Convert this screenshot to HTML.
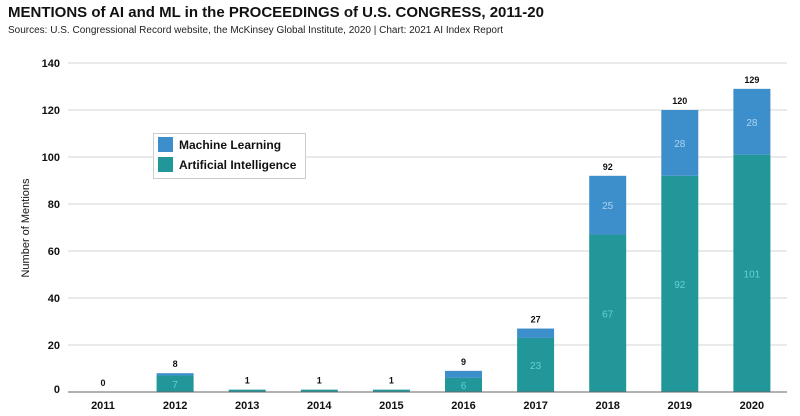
<!DOCTYPE html>
<html><head><meta charset="utf-8"><style>
body{margin:0;background:#fff;font-family:"Liberation Sans",sans-serif}
#wrap{position:relative;width:800px;height:416px;overflow:hidden}
.t{position:absolute;left:8px;top:4px;font-size:15px;font-weight:bold;color:#111}
.s{position:absolute;left:8px;top:25px;font-size:10px;color:#222}
</style></head><body>
<div id="wrap">
<div class="t">MENTIONS of AI and ML in the PROCEEDINGS of U.S. CONGRESS, 2011-20</div>
<div class="s">Sources: U.S. Congressional Record website, the McKinsey Global Institute, 2020 | Chart: 2021 AI Index Report</div>
<svg id="c" width="800" height="416" style="position:absolute;left:0;top:0"></svg>
</div>
<script>
const years=["2011","2012","2013","2014","2015","2016","2017","2018","2019","2020"];
const ai=[0,7,1,1,1,6,23,67,92,101];
const ml=[0,1,0,0,0,3,4,25,28,28];
const totals=[0,8,1,1,1,9,27,92,120,129];
const yTicks=[0,20,40,60,80,100,120,140];
const NS="http://www.w3.org/2000/svg",svg=document.getElementById('c');
const y=v=>392-v*2.35, x=i=>103+i*72.1, bw=37;
function el(t,a,txt){const e=document.createElementNS(NS,t);for(const k in a)e.setAttribute(k,a[k]);if(txt!==undefined)e.textContent=txt;svg.appendChild(e);return e;}
yTicks.forEach(v=>{
 if(v>0){const g=el('line',{x1:68,x2:787,y1:y(v),y2:y(v),stroke:'#d4d4d4','stroke-width':1});
 
 }
 const t=el('text',{x:60,y:(v===0?y(v)-3:y(v))+4,'text-anchor':'end','font-size':11,'font-weight':'bold',fill:'#111'},v);
 
 
});
const yt=el('text',{x:0,y:0,transform:'translate(29,228) rotate(-90)','text-anchor':'middle','font-size':11,fill:'#111'},'Number of Mentions');


years.forEach((yr,i)=>{
 const cx=x(i);
 const a=el('rect',{x:cx-bw/2,y:y(ai[i]),width:bw,height:ai[i]*2.35,fill:'#21979a'});
 
 
 const m=el('rect',{x:cx-bw/2,y:y(ai[i]+ml[i]),width:bw,height:ml[i]*2.35,fill:'#3d8fcb'});
 
 
 if(ai[i]>=5){const l=el('text',{x:cx,y:y(ai[i]/2)+4,'text-anchor':'middle','font-size':10,fill:'#5fd3d6'},ai[i]);
  
  }
 if(ml[i]>=20){const l=el('text',{x:cx,y:y(ai[i]+ml[i]/2)+4,'text-anchor':'middle','font-size':10,fill:'#a9d3f0'},ml[i]);
  
  }
 const tt=el('text',{x:cx,y:y(totals[i])-6,'text-anchor':'middle','font-size':9,'font-weight':'bold',fill:'#111'},totals[i]);
 
 
 const xl=el('text',{x:cx,y:409,'text-anchor':'middle','font-size':11,'font-weight':'bold',fill:'#111'},yr);
 
 
});
const ax=el('line',{x1:68,x2:787,y1:392,y2:392,stroke:'#666','stroke-width':1});


const lb=el('rect',{x:153.5,y:133.5,width:152,height:45,fill:'#fff',stroke:'#ccc'});


[['Machine Learning','#3d8fcb',137],['Artificial Intelligence','#21979a',157]].forEach(([n,c,yy],k)=>{
 const r=el('rect',{x:158,y:yy,width:15,height:15,fill:c});
 
 
 const t=el('text',{x:179,y:yy+12,'font-size':12,'font-weight':'bold',fill:'#111'},n);
 
 
});
</script>
</body></html>
